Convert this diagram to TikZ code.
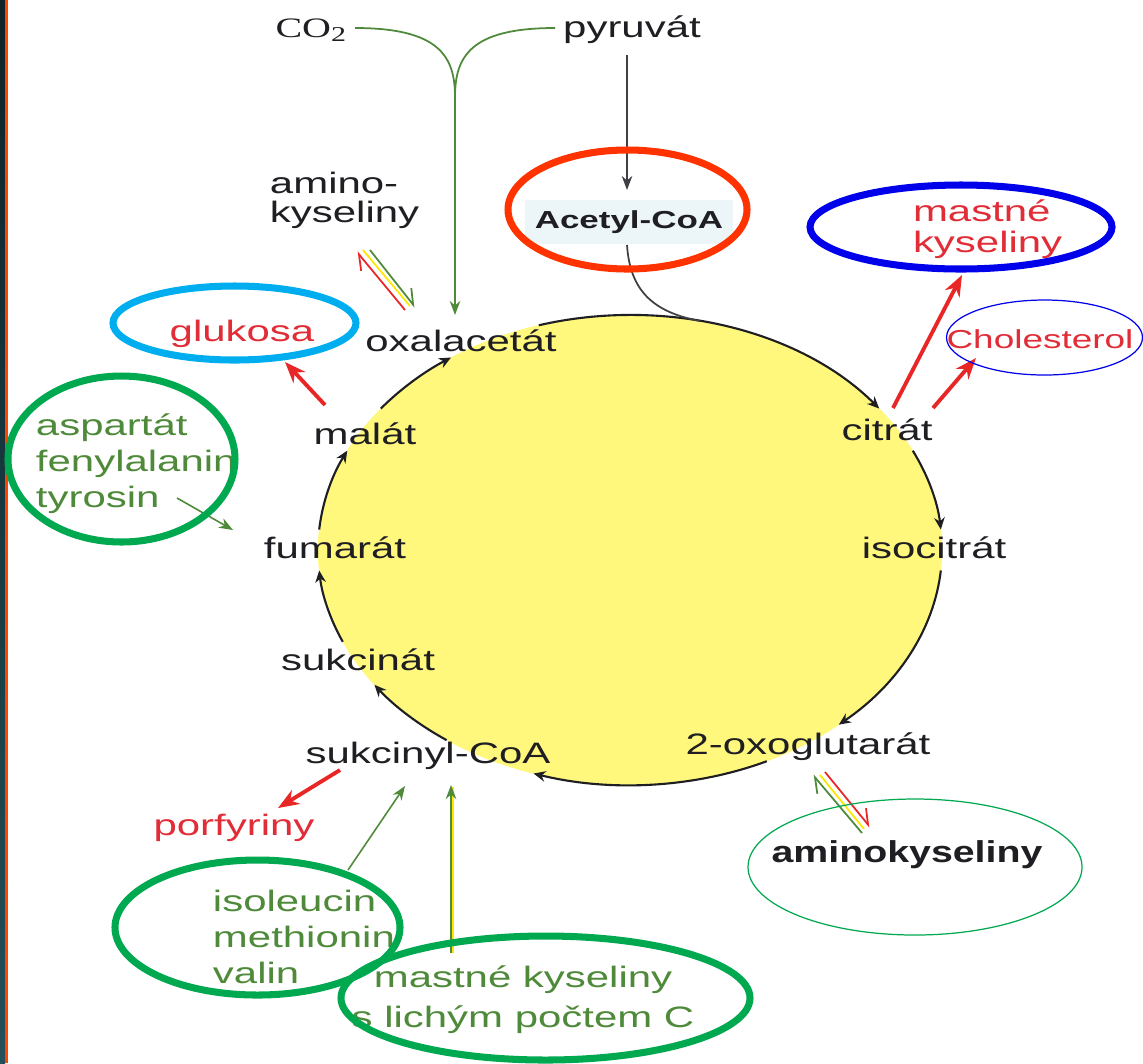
\documentclass[tikz,border=0pt]{standalone}
\usepackage{fontspec}
\setmainfont{Liberation Sans}
\newfontfamily\timesfont{Liberation Serif}
\definecolor{ink}{RGB}{30,30,35}
\definecolor{outred}{RGB}{225,45,55}
\definecolor{arrred}{RGB}{232,38,38}
\definecolor{ingreen}{RGB}{78,138,58}
\definecolor{cycyellow}{RGB}{255,248,125}
\definecolor{acetylbox}{RGB}{236,246,248}
\definecolor{hlred}{RGB}{255,51,0}
\definecolor{hlblue}{RGB}{0,0,235}
\definecolor{hlcyan}{RGB}{0,174,239}
\definecolor{hlgreen}{RGB}{0,168,80}
\definecolor{stripetop}{RGB}{14,35,40}
\definecolor{stripemid}{RGB}{58,122,130}
\definecolor{stripebot}{RGB}{35,80,90}
\definecolor{edgeline}{RGB}{255,69,0}
\usetikzlibrary{arrows.meta,shapes.geometric}

\begin{document}
\begin{tikzpicture}[x=0.01cm,y=-0.01cm,
  lbl/.style={font=\fontsize{8.4}{10}\selectfont,text=ink,inner sep=1pt,xscale=1.42},
  met/.style={lbl,anchor=base},
  outprod/.style={lbl,anchor=base,text=outred},
  inlbl/.style={lbl,text=ingreen,align=left,anchor=base west},
  cyclebg/.style={ellipse,fill=cycyellow,inner sep=0pt,
    minimum width=6.24cm,minimum height=4.70cm},
  cyc/.style={draw=ink,line width=0.6pt,-{Stealth[length=3.4pt,width=3pt]}},
  feed/.style={draw=ink!85,line width=0.5pt},
  stem/.style={draw=ingreen,line width=0.5pt},
  outarrow/.style={draw=arrred,line width=1.1pt,-{Stealth[length=6pt,width=4.6pt]}},
  inarrow/.style={draw=ingreen,line width=0.45pt,-{Stealth[length=4pt,width=3pt]}},
  harpred/.style={draw=arrred,line width=0.5pt,-{Straight Barb[harpoon,length=4pt,width=5pt]}},
  harpgreen/.style={draw=ingreen,line width=0.5pt,-{Straight Barb[harpoon,length=4pt,width=5pt]}},
  harpyel/.style={draw=yellow!90!orange,line width=0.5pt},
  hlthick/.style={line width=2pt},
  hlthin/.style={line width=0.35pt}
]
  \useasboundingbox (0,0) rectangle (1143,1063);
  \fill[white] (0,0) rectangle (1143,1063);
  \shade[top color=stripetop,middle color=stripemid,bottom color=stripebot] (0,0) rectangle (5,1063);
  \fill[edgeline] (5,0) rectangle (7.5,1063);

  % citrate cycle
  \node[cyclebg] (cycle) at (630,550) {};
  \foreach \a/\b in {217/235,253/323,335/355,365/408,424/468,486/505,517/535,545/565}
    \draw[cyc] (cycle.center) ++(\a:312 and 235) arc[start angle=\a,end angle=\b,x radius=312,y radius=235];
  \path (cycle.center) ++(283:312 and 235) coordinate (join);

  \node[met] (oxal) at (461,351) {oxalacetát};
  \node[met] (citrat) at (887,440) {citrát};
  \node[met] (isocitrat) at (934,558) {isocitrát};
  \node[met] (oxoglut) at (808,754) {2-oxoglutarát};
  \node[met] (sukcinyl) at (428,763) {sukcinyl-CoA};
  \node[met] (sukcinat) at (358,670) {sukcinát};
  \node[met] (fumarat) at (335,558) {fumarát};
  \node[met] (malat) at (365,444) {malát};

  % inputs at the top
  \node[met] (pyruvat) at (632,37) {pyruvát};
  \node[met,font=\fontsize{8}{9}\selectfont\timesfont] (cotwo) at (312,37) {CO\textsubscript{2}};
  \node[met,font=\fontsize{7}{8}\selectfont\bfseries,fill=acetylbox,inner xsep=2pt,inner ysep=3pt] (acetyl) at (629,228) {Acetyl-CoA};
  \coordinate (merge) at (455,97);
  \draw[stem] ([shift={(43,-9)}]cotwo.base) .. controls +(85,0) and +(0,-40) .. (merge);
  \draw[stem] ([shift={(-77,-9)}]pyruvat.base) .. controls +(-85,0) and +(0,-40) .. (merge);
  \draw[stem,-{Stealth[length=4pt,width=3pt]}] (merge) -- ([shift={(-6,-36)}]oxal.base);
  \draw[feed,-{Stealth[length=4pt,width=3pt]}] ([shift={(-5,18)}]pyruvat.base) -- ([shift={(-2,-38)}]acetyl.base);
  \draw[feed] ([shift={(-2,17)}]acetyl.base) .. controls +(3,45) and +(-48,-9) .. (join);

  % products
  \node[outprod] (glukosa) at (242,341) {glukosa};
  \node[lbl,text=outred,align=left,anchor=base west,font=\fontsize{8.4}{8.8}\selectfont] (mastne) at (907,252) {mastné\\kyseliny};
  \node[outprod,font=\fontsize{7.4}{9}\selectfont] (cholesterol) at (1040,348) {Cholesterol};
  \node[outprod] (porfyriny) at (234,835) {porfyriny};
  \draw[outarrow] ([shift={(-40,-39)}]malat.base) -- ([shift={(43,21)}]glukosa.base);
  \draw[outarrow] ([shift={(6,-32)}]citrat.base) -- ([shift={(55,23)}]mastne.base west);
  \draw[outarrow] ([shift={(46,-32)}]citrat.base) -- ([shift={(-64,10)}]cholesterol.base);
  \draw[outarrow] ([shift={(-88,7)}]sukcinyl.base) -- ([shift={(44,-27)}]porfyriny.base);

  % sources
  \node[inlbl,font=\fontsize{8.4}{10.2}\selectfont] (aspartat) at (30,507) {aspartát\\fenylalanin\\tyrosin};
  \node[inlbl,font=\fontsize{8.4}{10.1}\selectfont] (isoleucin) at (207,983) {isoleucin\\methionin\\valin};
  \node[lbl,text=ingreen,align=center,anchor=base,font=\fontsize{8.4}{11.1}\selectfont] (lichym) at (523,1027) {mastné kyseliny\\s lichým počtem C};
  \draw[inarrow] ([shift={(147,-9)}]aspartat.base west) -- ([shift={(-102,-28)}]fumarat.base);
  \draw[inarrow] ([shift={(141,-113)}]isoleucin.base west) -- ([shift={(-23,23)}]sukcinyl.base);
  \draw[harpyel] ([shift={(-70,-74)}]lichym.base) -- ([shift={(25,24)}]sukcinyl.base);
  \draw[inarrow] ([shift={(-72,-74)}]lichym.base) -- ([shift={(23,22)}]sukcinyl.base);

  % amino acids, both ways
  \node[lbl,align=left,anchor=base west,font=\fontsize{8.4}{8.25}\selectfont] (amino) at (264,222) {amino-\\kyseliny};
  \node[met,font=\fontsize{8.6}{10}\selectfont\bfseries,xscale=0.915] (aminokys) at (907,862) {aminokyseliny};
  \draw[harpred] ([shift={(-56,-41)}]oxal.base) -- ([shift={(93,30)}]amino.base west);
  \draw[harpyel] ([shift={(-51,-45)}]oxal.base) -- ([shift={(99,28)}]amino.base west);
  \draw[harpgreen] ([shift={(106,28)}]amino.base west) -- ([shift={(-46,-44)}]oxal.base);
  \draw[harpgreen] ([shift={(-45,-29)}]aminokys.base) -- ([shift={(5,21)}]oxoglut.base);
  \draw[harpyel] ([shift={(12,21)}]oxoglut.base) -- ([shift={(-43,-33)}]aminokys.base);
  \draw[harpred] ([shift={(17,18)}]oxoglut.base) -- ([shift={(-37,-35)}]aminokys.base);

  % highlight rings
  \draw[hlthick,hlred] (627.5,209.5) ellipse [x radius=119.5,y radius=59.5];
  \draw[hlthick,hlblue] (961,227) ellipse [x radius=151,y radius=42];
  \draw[hlthick,hlcyan] (234.5,323) ellipse [x radius=121.5,y radius=37];
  \draw[hlthin,hlblue] (1044.5,337.5) ellipse [x radius=98,y radius=37.5];
  \draw[hlthick,hlgreen] (121.5,459) ellipse [x radius=113.5,y radius=83];
  \draw[hlthick,hlgreen] (257.5,927.5) ellipse [x radius=142.5,y radius=67.5];
  \draw[hlthick,hlgreen] (545.5,998) ellipse [x radius=204.5,y radius=62];
  \draw[hlthin,hlgreen] (915,867) ellipse [x radius=167,y radius=68];
\end{tikzpicture}
\end{document}
